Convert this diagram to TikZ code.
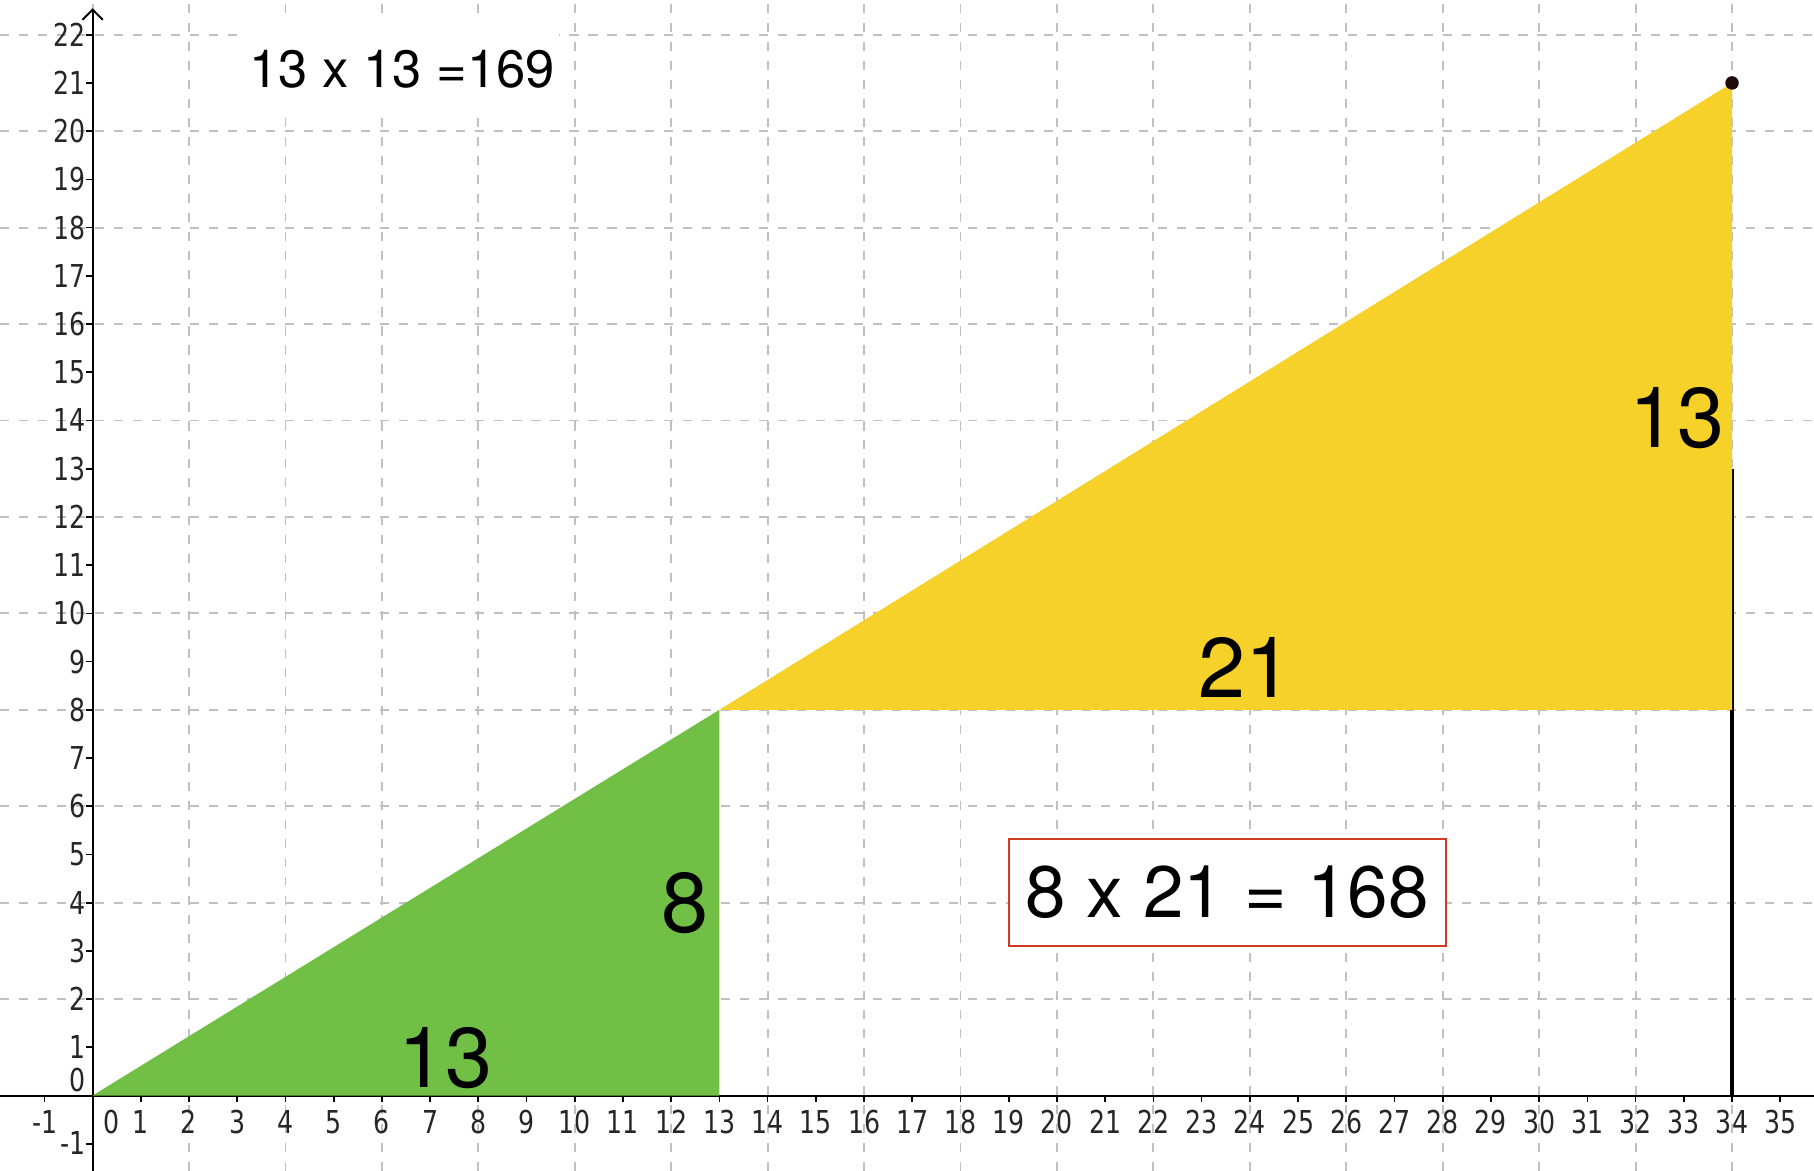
\documentclass[tikz,border=0pt]{standalone}
\usepackage{fontspec}
\setmainfont{TeX Gyre Heros}
\newfontfamily\axisfont[FakeStretch=0.8]{DejaVu Sans}
\usepackage{tikz}
\usetikzlibrary{arrows.meta,positioning}
\definecolor{gridgray}{RGB}{192,192,192}
\definecolor{greenfill}{RGB}{113,191,68}
\definecolor{yellowfill}{RGB}{245,209,42}
\definecolor{boxred}{RGB}{207,59,34}
\definecolor{dotblack}{RGB}{30,12,12}
\tikzset{
  gridline/.style={draw=gridgray, line width=0.55pt, dash pattern=on 2.7pt off 2.9pt},
  axisline/.style={line width=0.6pt},
  axtick/.style ={line width=0.5pt},
  xlbl/.style   ={font=\axisfont\fontsize{9.3}{10}\selectfont, inner sep=0pt, text=black!85},
  ylbl/.style   ={font=\axisfont\fontsize{9.3}{10}\selectfont, inner sep=0pt, anchor=east, text=black!85},
  biglbl/.style ={font=\fontsize{25}{28}\selectfont, inner sep=0pt},
  sumbox/.style ={draw=boxred, line width=0.6pt, fill=white, font=\fontsize{21.5}{24}\selectfont,
                  minimum width=4.53cm, minimum height=1.11cm, inner sep=0pt},
  topbox/.style ={fill=white, font=\fontsize{15.5}{18}\selectfont, minimum width=3.26cm, minimum height=0.95cm, inner sep=0pt}
}

\begin{document}
\begin{tikzpicture}[x=0.5cm, y=0.5cm]
  \useasboundingbox (-1.92,-1.56) rectangle (35.70,22.72);
  % grid
  \draw[gridline] (-1.92,-1.56) grid (35.70,22.72);
  % corners of the two triangles
  \coordinate (O) at (0,0);
  \coordinate (A) at (13,0);
  \coordinate (B) at (13,8);
  \coordinate (C) at (34,8);
  \coordinate (D) at (34,21);
  \coordinate (E) at (34,0);
  \coordinate (F) at (34,13);
  % axes
  \coordinate (xl) at (-1.92,0);
  \coordinate (xr) at (35.70,0);
  \coordinate (yb) at (0,-1.56);
  \coordinate (yt) at (0,22.55);
  \draw[axisline] (xl) -- (xr);
  \draw[axisline, -{Straight Barb[length=3pt,width=6pt]}] (yb) -- (yt);
  \foreach \i in {-1,...,35} \draw[axtick] (\i,0) -- (\i,-0.13);
  \foreach \j in {-1,...,22} \draw[axtick] (0,\j) -- (-0.13,\j);
  \foreach \i in {1,...,35} \node[xlbl] (xlab\i) at (\i,-0.55) {\i};
  \node[xlbl] (xlab0) at (0.4,-0.55) {0};
  \node[xlbl] (xlabm) at (-0.98,-0.55) {-1};
  \foreach \j in {1,...,22} \node[ylbl] (ylab\j) at (-0.14,\j) {\j};
  \node[ylbl] (ylab0) at (-0.14,0.33) {0};
  \node[ylbl] (ylabm) at (-0.14,-0.98) {-1};
  % black side at x=34
  \draw[line width=1.2pt] (E) -- (F);
  % triangles
  \fill[greenfill] (O) -- (A) -- (B) -- cycle;
  \fill[yellowfill] (B) -- (C) -- (D) -- cycle;
  \fill[dotblack] (D) circle (0.14);
  % labels
  \node[biglbl] (g13) at (7.32,0.77) {13};
  \node[biglbl] (g8)  at (12.28,4.0) {8};
  \node[biglbl] (y21) at (23.92,8.88) {21};
  \node[biglbl, anchor=east] (y13) at (33.85,14.04) {13};
  \node[sumbox] (sum) at (23.53,4.21) {8 x 21 = 168};
  \node[topbox] (top) at (6.42,21.29) {13 x 13 =169};
\end{tikzpicture}
\end{document}
